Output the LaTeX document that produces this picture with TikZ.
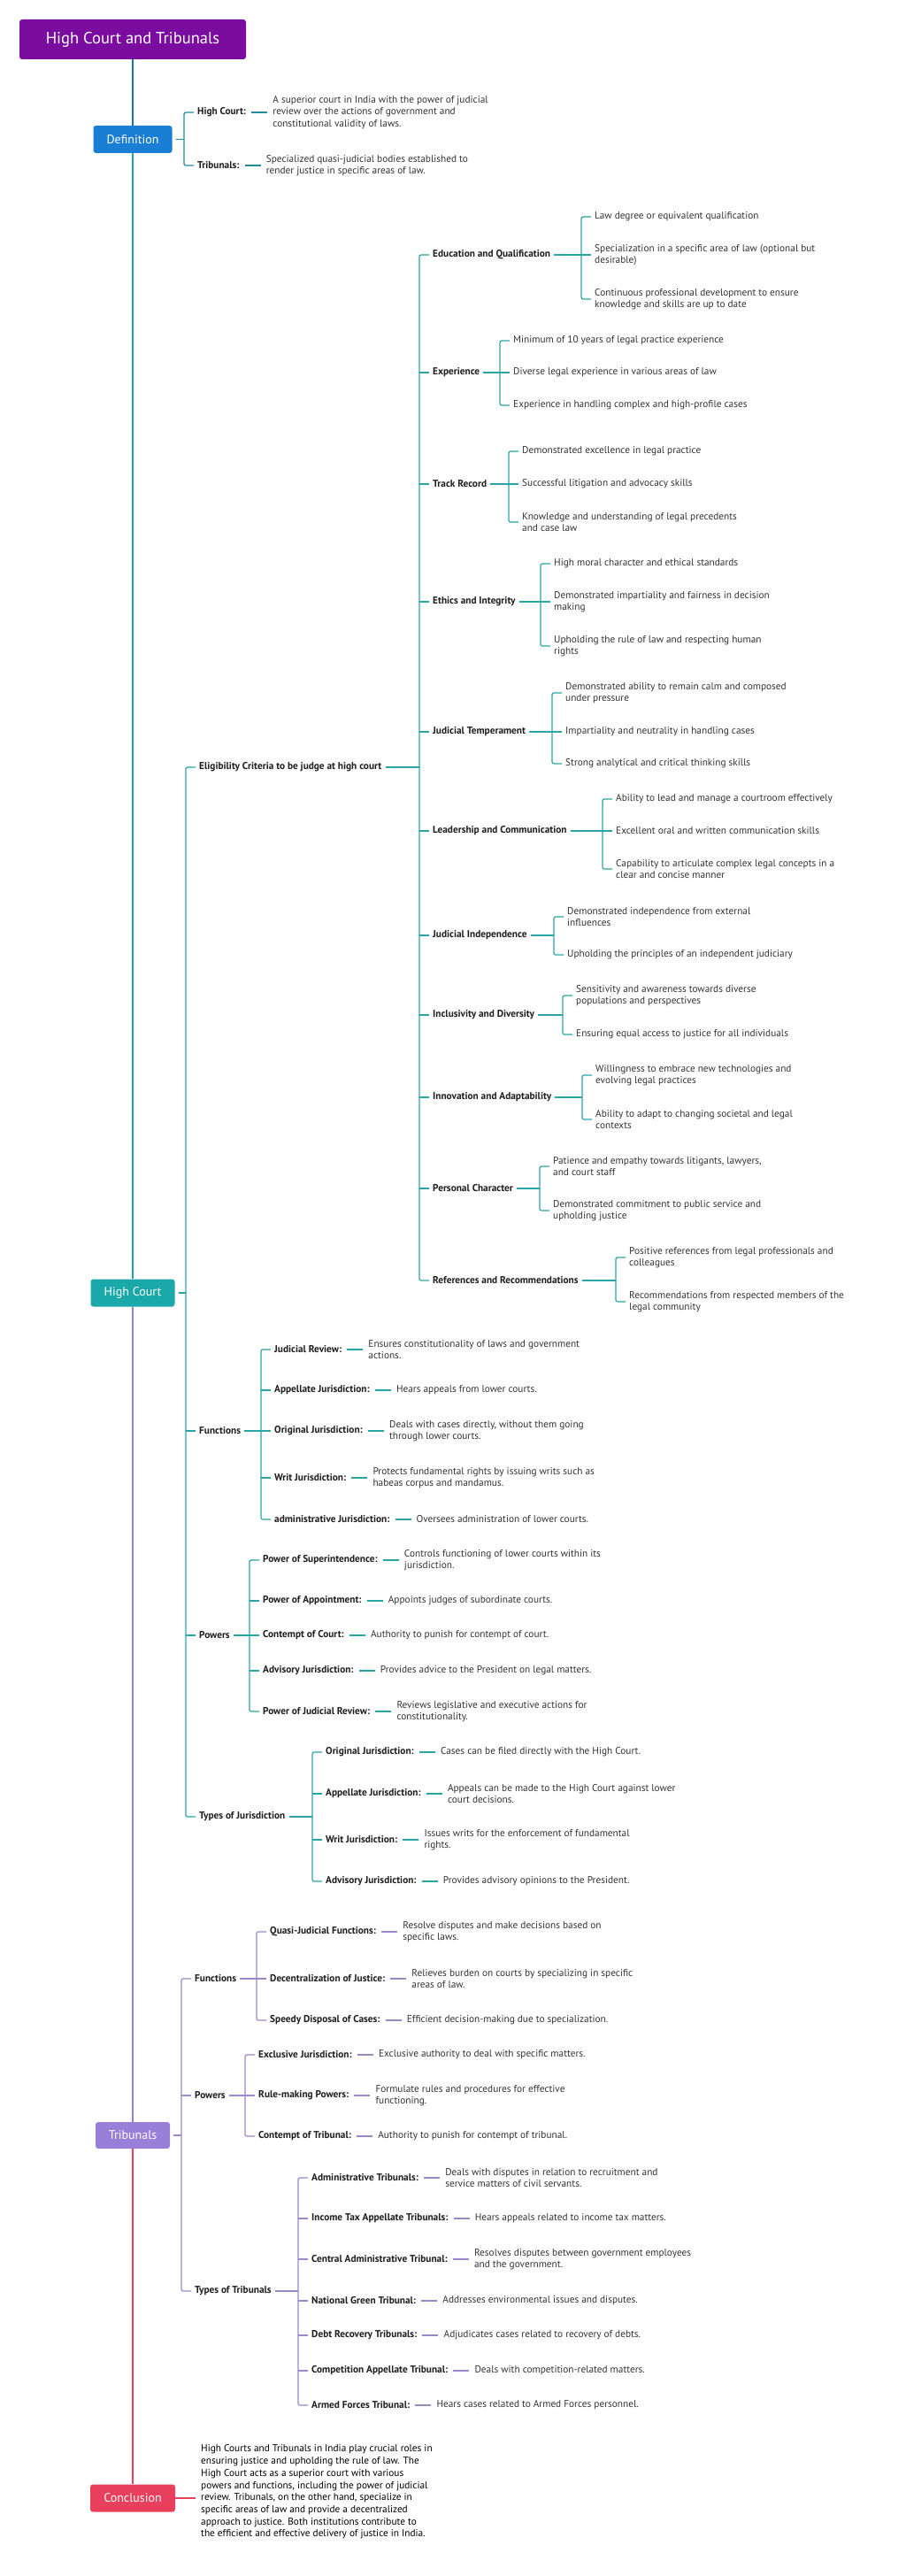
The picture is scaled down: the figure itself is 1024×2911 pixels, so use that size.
\documentclass[tikz,border=0pt]{standalone}
\usepackage{fontspec}
\setmainfont{PT Sans}
\usepackage{xcolor}
\usetikzlibrary{positioning}

\definecolor{titlepurple}{HTML}{7A0CA0}
\definecolor{defblue}{HTML}{1A7ED4}
\definecolor{hcteal}{HTML}{1AA8A8}
\definecolor{tribpurple}{HTML}{9A7FD8}
\definecolor{conred}{HTML}{E8405C}
\definecolor{spineblue}{HTML}{1B74B5}
\definecolor{defline}{HTML}{208C9C}
\definecolor{hcline}{HTML}{2AA5A5}
\definecolor{tribline}{HTML}{9A88C8}
\definecolor{labtext}{HTML}{1E1E1E}
\definecolor{desctext}{HTML}{333333}

\tikzset{
    box style/.style={rounded corners=3pt, text=white, inner sep=0pt, font=\fontsize{14}{16}\selectfont},
    lab/.style={anchor=west, inner sep=0pt, text=labtext, font=\fontsize{11.3}{13.3}\selectfont\bfseries},
    item/.style={anchor=west, inner sep=0pt, align=left, text=desctext, font=\fontsize{11.3}{13.3}\selectfont},
    desc/.style={item, right=30pt of #1},
    link/.style={line width=1.2pt},
}

% bracket from parent to first..last child
\newcommand\fork[4]{%
    \path (#3.west) ++(-15pt,0) coordinate (#2B);
    \draw[link, #1, shorten <=4pt] (#2.east) -- (#2.east -| #2B);
    \draw[link, #1, rounded corners=2pt, shorten <=4pt, shorten >=4pt]
        (#3.west) -- (#3.west -| #2B) -- (#4.west -| #2B) -- (#4.west);
}
\newcommand\twig[3]{\draw[link, #1, shorten >=4pt] (#3.west -| #2B) -- (#3.west);}
\newcommand\dash[3]{\draw[link, #1, shorten <=6pt, shorten >=6pt] (#2.east) -- (#3.west);}

\begin{document}
\begin{tikzpicture}[x=1pt, y=-1pt]
    \useasboundingbox[fill=white] (0,0) rectangle (1024,2911);

    % --- MAIN SPINE ---
    \node[box style, fill=titlepurple, minimum width=256pt, minimum height=45pt,
        font=\fontsize{18.5}{20}\selectfont] (title) at (150,44.5) {High Court and Tribunals};
    \node[box style, fill=defblue, minimum width=89pt, minimum height=31pt] (def) at (150,157.5) {Definition};
    \node[box style, fill=hcteal, minimum width=95pt, minimum height=31pt] (hc) at (150,1461) {High Court};
    \node[box style, fill=tribpurple, minimum width=84pt, minimum height=30pt] (trib) at (150,2413) {Tribunals};
    \node[box style, fill=conred, minimum width=96pt, minimum height=31pt] (con) at (150,2823) {Conclusion};

    \draw[link, spineblue] (title.south) -- (def.north);
    \draw[link, hcteal] (def.south) -- (hc.north);
    \draw[link, tribpurple] (hc.south) -- (trib.north);
    \draw[link, conred] (trib.south) -- (con.north);

    % --- DEFINITION ---
    \node[lab] (dhc) at (223,127) {High Court:};
    \node[desc=dhc] (dhcD) {A superior court in India with the power of judicial\\review over the actions of government and\\constitutional validity of laws.};
    \node[lab] (dtr) at (223,187) {Tribunals:};
    \node[desc=dtr] (dtrD) {Specialized quasi-judicial bodies established to\\render justice in specific areas of law.};
    \fork{defline}{def}{dhc}{dtr}
    \dash{defline}{dhc}{dhcD}
    \dash{defline}{dtr}{dtrD}

    % --- HIGH COURT ---
    \node[lab] (elig) at (225,867) {Eligibility Criteria to be judge at high court};
    \node[lab] (hfun) at (225,1617) {Functions};
    \node[lab] (hpow) at (225,1848) {Powers};
    \node[lab] (htoj) at (225,2053) {Types of Jurisdiction};
    \fork{hcline}{hc}{elig}{htoj}
    \foreach \c in {hfun, hpow} {\twig{hcline}{hc}{\c}}

    % Eligibility criteria
    \node[lab] (edu)  at (489,288)  {Education and Qualification};
    \node[lab] (exp)  at (489,421)  {Experience};
    \node[lab] (trk)  at (489,547)  {Track Record};
    \node[lab] (eth)  at (489,680)  {Ethics and Integrity};
    \node[lab] (tem)  at (489,827)  {Judicial Temperament};
    \node[lab] (lead) at (489,939)  {Leadership and Communication};
    \node[lab] (ind)  at (489,1057) {Judicial Independence};
    \node[lab] (inc)  at (489,1147) {Inclusivity and Diversity};
    \node[lab] (inn)  at (489,1240) {Innovation and Adaptability};
    \node[lab] (per)  at (489,1343) {Personal Character};
    \node[lab] (refs) at (489,1447) {References and Recommendations};
    \fork{hcline}{elig}{edu}{refs}
    \foreach \c in {exp, trk, eth, tem, lead, ind, inc, inn, per} {\twig{hcline}{elig}{\c}}

    \node[item] (edu1) at (672,245) {Law degree or equivalent qualification};
    \node[item] (edu2) at (672,288) {Specialization in a specific area of law (optional but\\desirable)};
    \node[item] (edu3) at (672,338) {Continuous professional development to ensure\\knowledge and skills are up to date};
    \fork{hcline}{edu}{edu1}{edu3} \twig{hcline}{edu}{edu2}

    \node[item] (exp1) at (580,385) {Minimum of 10 years of legal practice experience};
    \node[item] (exp2) at (580,421) {Diverse legal experience in various areas of law};
    \node[item] (exp3) at (580,458) {Experience in handling complex and high-profile cases};
    \fork{hcline}{exp}{exp1}{exp3} \twig{hcline}{exp}{exp2}

    \node[item] (trk1) at (590,510) {Demonstrated excellence in legal practice};
    \node[item] (trk2) at (590,547) {Successful litigation and advocacy skills};
    \node[item] (trk3) at (590,590) {Knowledge and understanding of legal precedents\\and case law};
    \fork{hcline}{trk}{trk1}{trk3} \twig{hcline}{trk}{trk2}

    \node[item] (eth1) at (626,637) {High moral character and ethical standards};
    \node[item] (eth2) at (626,680) {Demonstrated impartiality and fairness in decision\\making};
    \node[item] (eth3) at (626,730) {Upholding the rule of law and respecting human\\rights};
    \fork{hcline}{eth}{eth1}{eth3} \twig{hcline}{eth}{eth2}

    \node[item] (tem1) at (639,783) {Demonstrated ability to remain calm and composed\\under pressure};
    \node[item] (tem2) at (639,827) {Impartiality and neutrality in handling cases};
    \node[item] (tem3) at (639,863) {Strong analytical and critical thinking skills};
    \fork{hcline}{tem}{tem1}{tem3} \twig{hcline}{tem}{tem2}

    \node[item] (lead1) at (696,903) {Ability to lead and manage a courtroom effectively};
    \node[item] (lead2) at (696,939) {Excellent oral and written communication skills};
    \node[item] (lead3) at (696,982) {Capability to articulate complex legal concepts in a\\clear and concise manner};
    \fork{hcline}{lead}{lead1}{lead3} \twig{hcline}{lead}{lead2}

    \node[item] (ind1) at (641,1036) {Demonstrated independence from external\\influences};
    \node[item] (ind2) at (641,1079) {Upholding the principles of an independent judiciary};
    \fork{hcline}{ind}{ind1}{ind2}

    \node[item] (inc1) at (651,1125) {Sensitivity and awareness towards diverse\\populations and perspectives};
    \node[item] (inc2) at (651,1169) {Ensuring equal access to justice for all individuals};
    \fork{hcline}{inc}{inc1}{inc2}

    \node[item] (inn1) at (673,1215) {Willingness to embrace new technologies and\\evolving legal practices};
    \node[item] (inn2) at (673,1265) {Ability to adapt to changing societal and legal\\contexts};
    \fork{hcline}{inn}{inn1}{inn2}

    \node[item] (per1) at (625,1318) {Patience and empathy towards litigants, lawyers,\\and court staff};
    \node[item] (per2) at (625,1368) {Demonstrated commitment to public service and\\upholding justice};
    \fork{hcline}{per}{per1}{per2}

    \node[item] (refs1) at (711,1421) {Positive references from legal professionals and\\colleagues};
    \node[item] (refs2) at (711,1471) {Recommendations from respected members of the\\legal community};
    \fork{hcline}{refs}{refs1}{refs2}

    % Functions
    \node[lab] (fjr)  at (310,1525) {Judicial Review:};
    \node[desc=fjr] (fjrD) {Ensures constitutionality of laws and government\\actions.};
    \node[lab] (fapp) at (310,1571) {Appellate Jurisdiction:};
    \node[desc=fapp] (fappD) {Hears appeals from lower courts.};
    \node[lab] (forg) at (310,1617) {Original Jurisdiction:};
    \node[desc=forg] (forgD) {Deals with cases directly, without them going\\through lower courts.};
    \node[lab] (fwrit) at (310,1670) {Writ Jurisdiction:};
    \node[desc=fwrit] (fwritD) {Protects fundamental rights by issuing writs such as\\habeas corpus and mandamus.};
    \node[lab] (fadm) at (310,1717) {administrative Jurisdiction:};
    \node[desc=fadm] (fadmD) {Oversees administration of lower courts.};
    \fork{hcline}{hfun}{fjr}{fadm}
    \foreach \c in {fapp, forg, fwrit} {\twig{hcline}{hfun}{\c}}
    \foreach \c in {fjr, fapp, forg, fwrit, fadm} {\dash{hcline}{\c}{\c D}}

    % Powers
    \node[lab] (psup) at (297,1763) {Power of Superintendence:};
    \node[desc=psup] (psupD) {Controls functioning of lower courts within its\\jurisdiction.};
    \node[lab] (papp) at (297,1809) {Power of Appointment:};
    \node[desc=papp] (pappD) {Appoints judges of subordinate courts.};
    \node[lab] (pcon) at (297,1848) {Contempt of Court:};
    \node[desc=pcon] (pconD) {Authority to punish for contempt of court.};
    \node[lab] (padv) at (297,1888) {Advisory Jurisdiction:};
    \node[desc=padv] (padvD) {Provides advice to the President on legal matters.};
    \node[lab] (pjr)  at (297,1934) {Power of Judicial Review:};
    \node[desc=pjr] (pjrD) {Reviews legislative and executive actions for\\constitutionality.};
    \fork{hcline}{hpow}{psup}{pjr}
    \foreach \c in {papp, pcon, padv} {\twig{hcline}{hpow}{\c}}
    \foreach \c in {psup, papp, pcon, padv, pjr} {\dash{hcline}{\c}{\c D}}

    % Types of Jurisdiction
    \node[lab] (jorg) at (368,1980) {Original Jurisdiction:};
    \node[desc=jorg] (jorgD) {Cases can be filed directly with the High Court.};
    \node[lab] (japp) at (368,2027) {Appellate Jurisdiction:};
    \node[desc=japp] (jappD) {Appeals can be made to the High Court against lower\\court decisions.};
    \node[lab] (jwrit) at (368,2079) {Writ Jurisdiction:};
    \node[desc=jwrit] (jwritD) {Issues writs for the enforcement of fundamental\\rights.};
    \node[lab] (jadv) at (368,2126) {Advisory Jurisdiction:};
    \node[desc=jadv] (jadvD) {Provides advisory opinions to the President.};
    \fork{hcline}{htoj}{jorg}{jadv}
    \foreach \c in {japp, jwrit} {\twig{hcline}{htoj}{\c}}
    \foreach \c in {jorg, japp, jwrit, jadv} {\dash{hcline}{\c}{\c D}}

    % --- TRIBUNALS ---
    \node[lab] (tfun) at (220,2236) {Functions};
    \node[lab] (tpow) at (220,2368) {Powers};
    \node[lab] (ttyp) at (220,2589) {Types of Tribunals};
    \fork{tribline}{trib}{tfun}{ttyp}
    \twig{tribline}{trib}{tpow}

    % Functions
    \node[lab] (tq) at (305,2183) {Quasi-Judicial Functions:};
    \node[desc=tq] (tqD) {Resolve disputes and make decisions based on\\specific laws.};
    \node[lab] (tdec) at (305,2236) {Decentralization of Justice:};
    \node[desc=tdec] (tdecD) {Relieves burden on courts by specializing in specific\\areas of law.};
    \node[lab] (tsp) at (305,2283) {Speedy Disposal of Cases:};
    \node[desc=tsp] (tspD) {Efficient decision-making due to specialization.};
    \fork{tribline}{tfun}{tq}{tsp}
    \twig{tribline}{tfun}{tdec}
    \foreach \c in {tq, tdec, tsp} {\dash{tribline}{\c}{\c D}}

    % Powers
    \node[lab] (tex) at (292,2322) {Exclusive Jurisdiction:};
    \node[desc=tex] (texD) {Exclusive authority to deal with specific matters.};
    \node[lab] (trm) at (292,2368) {Rule-making Powers:};
    \node[desc=trm] (trmD) {Formulate rules and procedures for effective\\functioning.};
    \node[lab] (tct) at (292,2414) {Contempt of Tribunal:};
    \node[desc=tct] (tctD) {Authority to punish for contempt of tribunal.};
    \fork{tribline}{tpow}{tex}{tct}
    \twig{tribline}{tpow}{trm}
    \foreach \c in {tex, trm, tct} {\dash{tribline}{\c}{\c D}}

    % Types of Tribunals
    \node[lab] (tadm) at (352,2461) {Administrative Tribunals:};
    \node[desc=tadm] (tadmD) {Deals with disputes in relation to recruitment and\\service matters of civil servants.};
    \node[lab] (titx) at (352,2507) {Income Tax Appellate Tribunals:};
    \node[desc=titx] (titxD) {Hears appeals related to income tax matters.};
    \node[lab] (tcat) at (352,2553) {Central Administrative Tribunal:};
    \node[desc=tcat] (tcatD) {Resolves disputes between government employees\\and the government.};
    \node[lab] (tngt) at (352,2600) {National Green Tribunal:};
    \node[desc=tngt] (tngtD) {Addresses environmental issues and disputes.};
    \node[lab] (tdrt) at (352,2639) {Debt Recovery Tribunals:};
    \node[desc=tdrt] (tdrtD) {Adjudicates cases related to recovery of debts.};
    \node[lab] (tcomp) at (352,2679) {Competition Appellate Tribunal:};
    \node[desc=tcomp] (tcompD) {Deals with competition-related matters.};
    \node[lab] (tarm) at (352,2718) {Armed Forces Tribunal:};
    \node[desc=tarm] (tarmD) {Hears cases related to Armed Forces personnel.};
    \fork{tribline}{ttyp}{tadm}{tarm}
    \foreach \c in {titx, tcat, tngt, tdrt, tcomp} {\twig{tribline}{ttyp}{\c}}
    \foreach \c in {tadm, titx, tcat, tngt, tdrt, tcomp, tarm} {\dash{tribline}{\c}{\c D}}

    % --- CONCLUSION ---
    \node[item, text=black, font=\fontsize{11.3}{13.7}\selectfont] (conT) at (227,2816)
        {High Courts and Tribunals in India play crucial roles in\\ensuring justice and upholding the rule of law. The\\High Court acts as a superior court with various\\powers and functions, including the power of judicial\\review. Tribunals, on the other hand, specialize in\\specific areas of law and provide a decentralized\\approach to justice. Both institutions contribute to\\the efficient and effective delivery of justice in India.};
    \draw[link, conred, shorten >=6pt] (con.east) -- (con.east -| conT.west);

\end{tikzpicture}
\end{document}
